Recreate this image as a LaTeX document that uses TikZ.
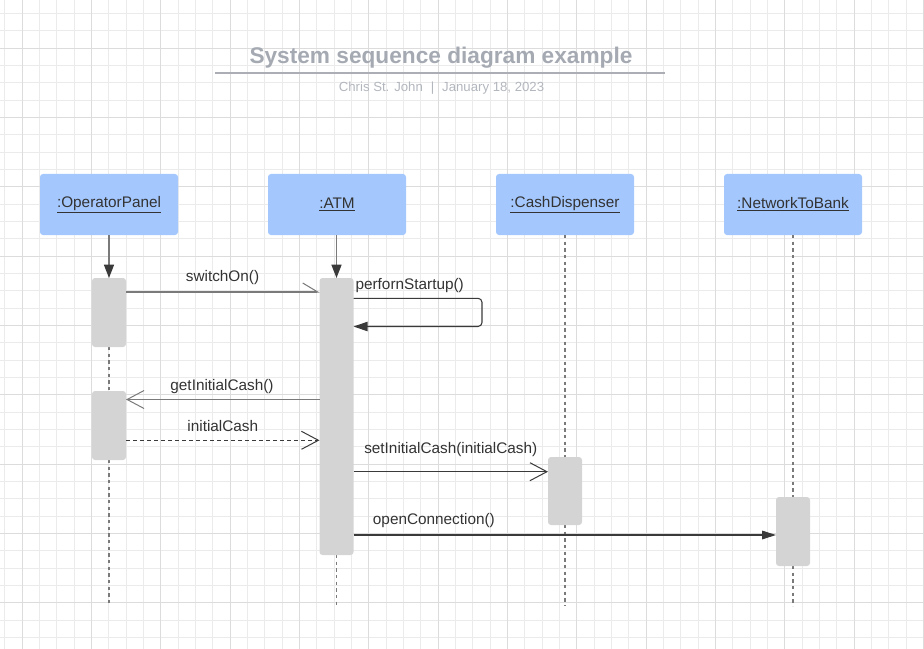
\documentclass[tikz,border=0pt]{standalone}
\usepackage{fontspec}
\setmainfont{Liberation Sans}
\usetikzlibrary{arrows.meta}
\definecolor{gridminor}{HTML}{EBEBEB}
\definecolor{gridmajor}{HTML}{DCDCDC}
\definecolor{boxblue}{HTML}{A4C8FE}
\definecolor{actgray}{HTML}{D4D4D4}
\definecolor{txt}{HTML}{333333}
\definecolor{titlegray}{HTML}{A4A9B2}
\definecolor{titleline}{HTML}{ABAEB4}
\definecolor{subgray}{HTML}{B2B6BD}
\definecolor{linegray}{HTML}{7A7A7A}
\definecolor{darkline}{HTML}{3A3A3A}
\begin{document}
\begin{tikzpicture}[x=0.75pt,y=-0.75pt,
  objbox/.style={fill=boxblue,rounded corners=2.25pt,minimum width=103.5pt,minimum height=45.75pt,inner sep=0pt,outer sep=0pt,text=txt,font=\fontsize{11.5}{13}\selectfont},
  actbox/.style={fill=actgray,rounded corners=2.25pt,minimum width=25.5pt,inner sep=0pt,outer sep=0pt},
  lbl/.style={text=txt,font=\fontsize{11.5}{13}\selectfont,inner sep=0pt},
  lifearrow/.style={draw=linegray,line width=1.1pt,-{Triangle[length=10pt,width=7.5pt,color=darkline]}},
  life/.style={draw=linegray,line width=0.8pt,dash pattern=on 2.6pt off 2.4pt},
  openhead/.style={-{Straight Barb[length=12.75pt,width=13.5pt,line width=0.75pt]}},
  msggray/.style={draw=linegray,line width=0.85pt},
  msgdark/.style={draw=darkline,line width=0.8pt},
]
\useasboundingbox (0,0) rectangle (924,649);
% grid (snapped to pixel centres)
\foreach \i in {-1,...,52} \draw[gridminor,line width=0.75pt] ({int(22.33+17.333*\i)+0.5},0) -- ++(0,649);
\foreach \i in {-2,...,35} \draw[gridminor,line width=0.75pt] (0,{int(48.33+17.333*\i)+0.5}) -- ++(924,0);
\foreach \i in {0,...,13} \draw[gridmajor,line width=0.75pt] ({int(22.33+69.333*\i)+0.5},0) -- ++(0,649);
\foreach \i in {0,...,8} \draw[gridmajor,line width=0.75pt] (0,{int(48.33+69.333*\i)+0.5}) -- ++(924,0);

% title
\node[anchor=base,text=titlegray,font=\fontsize{17}{20}\selectfont\bfseries,inner sep=0pt] (title) at (441,63.5) {System sequence diagram example};
\coordinate (tl) at (215,73);
\coordinate (tr) at (665,73);
\draw[draw=titleline,line width=1.2pt] (tl) -- (tr);
\node[anchor=base,text=subgray,font=\fontsize{9.9}{12}\selectfont,inner sep=0pt] (sub) at (441.5,91.5) {Chris St. John\hspace{0.6em}|\hspace{0.6em}January 18, 2023};

% objects
\node[objbox] (op) at (109,204.5) {\underline{:OperatorPanel}};
\node[objbox] (atm) at (337,204.5) {\underline{:ATM}};
\node[objbox] (cd) at (565,204.5) {\underline{:CashDispenser}};
\node[objbox] (nb) at (793,204.5) {\underline{:NetworkToBank}};

% bottom ends of lifelines
\coordinate (endy) at (0,606);

% lifelines (dashed parts drawn first)
\draw[life] (109,347) -- (109,391);
\draw[life] (109,460) -- (op |- endy);
\draw[life] (336.5,555) -- (336.5,606);
\draw[life] (cd.south) -- (565,457);
\draw[life] (565,525) -- (cd |- endy);
\draw[life] (nb.south) -- (793,497);
\draw[life] (793,566) -- (nb |- endy);

% activations
\node[actbox,minimum height=51.75pt] (op1) at (109,312.5) {};
\node[actbox,minimum height=51.75pt] (op2) at (109,425.5) {};
\node[actbox,minimum height=207.75pt] (atmA) at (336.5,416.5) {};
\node[actbox,minimum height=51pt] (cd1) at (565,491) {};
\node[actbox,minimum height=51.75pt] (nb1) at (793,531.5) {};

% creation arrows
\draw[lifearrow] (op.south) -- (op1.north);
\draw[lifearrow] (atm.south -| atmA.north) -- (atmA.north);

% message y levels
\coordinate (m1) at (0,292);
\coordinate (s1r) at (482,298.3);
\coordinate (s2r) at (482,326.5);
\coordinate (m3) at (0,399.5);
\coordinate (m4) at (0,440.3);
\coordinate (m5) at (0,471.7);
\coordinate (m6) at (0,535);

% switchOn
\draw[msggray,-{Straight Barb[left,length=11.25pt,width=13.5pt,line width=0.75pt]}] (op1.east |- m1) -- (atmA.west |- m1);
\node[lbl,anchor=base] (l1) at (222.5,281.5) {switchOn()};

% perfornStartup
\draw[msgdark,rounded corners=3pt,-{Triangle[length=10.5pt,width=7pt]}] (atmA.east |- s1r) -- (s1r) -- (s2r) -- (atmA.east |- s2r);
\node[lbl,anchor=base west] (l2) at (355.3,289) {perfornStartup()};

% getInitialCash
\draw[msggray,openhead] (atmA.west |- m3) -- (op2.east |- m3);
\node[lbl,anchor=base] (l3) at (222,390.5) {getInitialCash()};

% initialCash
\draw[msgdark,dash pattern=on 3pt off 2.25pt,openhead] (op2.east |- m4) -- (atmA.west |- m4);
\node[lbl,anchor=base] (l4) at (222.8,431.5) {initialCash};

% setInitialCash
\draw[msgdark,openhead] (atmA.east |- m5) -- (cd1.west |- m5);
\node[lbl,anchor=base west] (l5) at (364,453) {setInitialCash(initialCash)};

% openConnection
\draw[msgdark,-{Triangle[length=10.5pt,width=6.5pt]}] (atmA.east |- m6) -- (nb1.west |- m6);
\node[lbl,anchor=base west] (l6) at (372.7,524) {openConnection()};
\end{tikzpicture}
\end{document}
